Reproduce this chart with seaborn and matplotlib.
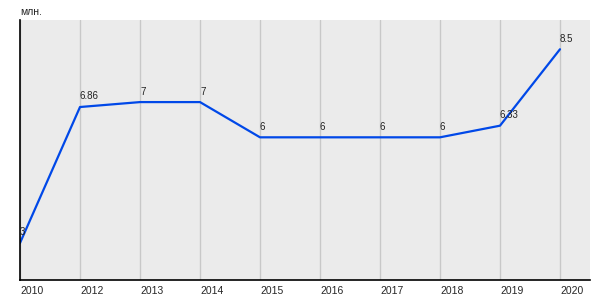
import matplotlib
matplotlib.use("Agg")
import matplotlib.pyplot as plt
import seaborn as sns
import pandas as pd

years = ["2010", "2012", "2013", "2014", "2015", "2016", "2017", "2018", "2019", "2020"]
values = [3, 6.86, 7, 7, 6, 6, 6, 6, 6.33, 8.5]
labels = ["3", "6.86", "7", "7", "6", "6", "6", "6", "6.33", "8.5"]
unit_label = "млн."

sns.set_theme(style="white")
plt.rcParams['font.family'] = ['Liberation Sans', 'DejaVu Sans']

df = pd.DataFrame({"year": years, "value": values})

fig = plt.figure(figsize=(6, 3), dpi=100)
ax = fig.add_axes([20/600, 20/300, 570/600, 260/300])
ax.set_facecolor("#ebebeb")

sns.lineplot(data=df, x="year", y="value", ax=ax, color="#0048e8", linewidth=1.6, sort=False)

ax.set_xlim(0, len(years) - 0.5)
ax.set_ylim(1.95, 9.33)
ax.set_xticks(range(len(years)))
ax.set_xticklabels(years, ha="left", fontsize=7.5)
ax.tick_params(axis="x", length=0, pad=4)
ax.set_yticks([])
ax.grid(axis="x", color="#c8c8c8", linewidth=1)
ax.set_axisbelow(True)
ax.set_xlabel("")
ax.set_ylabel("")

for s in ["top", "right"]:
    ax.spines[s].set_visible(False)
for s in ["left", "bottom"]:
    ax.spines[s].set_color("black")
    ax.spines[s].set_linewidth(1.2)

for i, (v, t) in enumerate(zip(values, labels)):
    ax.annotate(t, (i, v), xytext=(0, 4), textcoords="offset points",
                ha="left", va="bottom", fontsize=7, color="#222222")

fig.text(20/600, 1 - 12/300, unit_label, ha="left", va="center", fontsize=7.5, color="#222222")

fig.savefig("out.png", dpi=100)
